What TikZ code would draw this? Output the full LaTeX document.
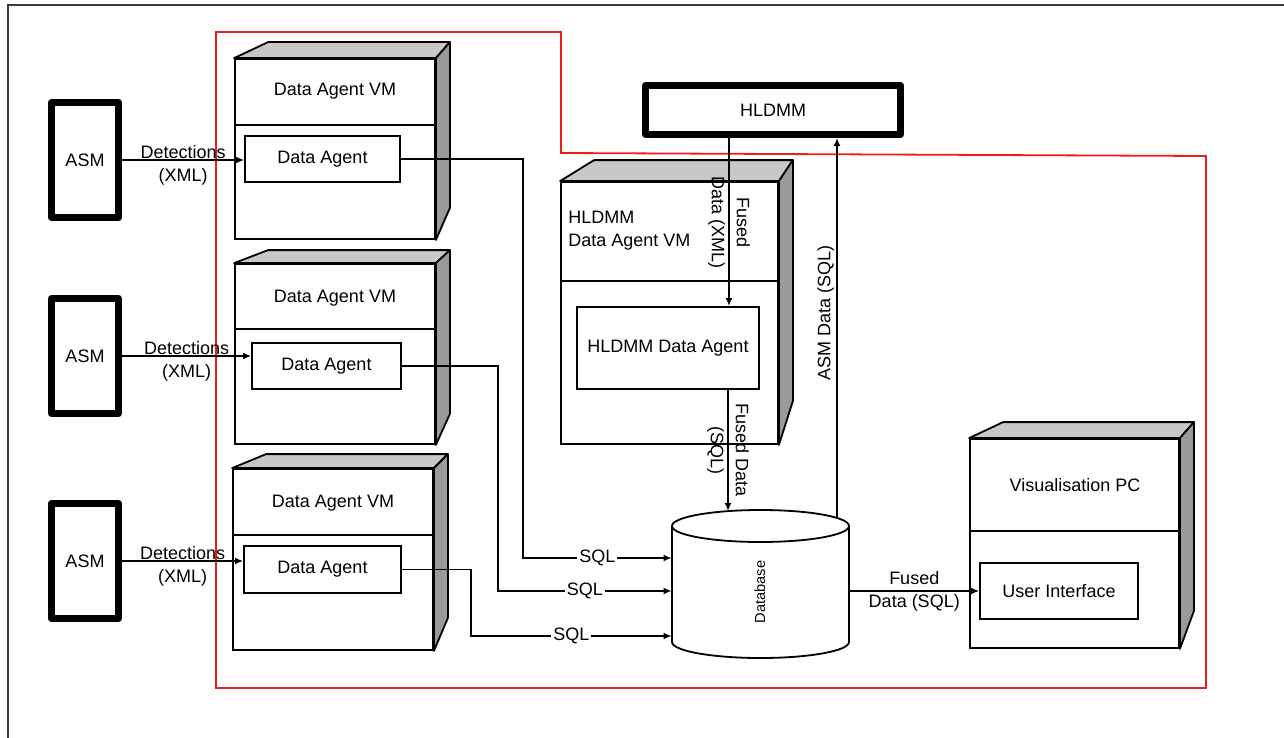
\documentclass[tikz,border=0pt]{standalone}
\usepackage{fontspec}
\setmainfont{Liberation Sans}
\usepackage{tikz}
\usetikzlibrary{arrows.meta,calc,fit,positioning}
\definecolor{frameGray}{HTML}{3C3C3C}
\definecolor{zoneRed}{HTML}{F21B1B}
\definecolor{topGray}{HTML}{C8C8C8}
\definecolor{sideGray}{HTML}{9A9A9A}

\tikzset{
  txt/.style={font=\fontsize{9}{11.5}\selectfont, align=center, inner sep=1pt},
  frontbox/.style={draw, line width=0.9pt, inner sep=0pt},
  asmbox/.style={draw, line width=3.5pt, line join=round, inner sep=0pt},
  boxtext/.style={label={[txt]center:#1}},
  flow/.style={-{Latex[length=4pt,width=3.5pt]}, line width=0.9pt},
  sqltag/.style={txt, fill=white},
}
% top and right faces of a 3D node box
\newcommand{\nodefaces}[3]{%
  \filldraw[fill=topGray, line width=0.9pt, line join=round]
    (#1.north west) -- ++(34,-#2) -- ($(#1.north east)+(14,-#2)$)
    -- (#1.north east) -- cycle;
  \filldraw[fill=sideGray, line width=0.9pt, line join=round]
    (#1.north east) -- ++(14,-#2) -- ($(#1.south east)+(14,-#3)$)
    -- (#1.south east) -- cycle;
}

\begin{document}
\begin{tikzpicture}[x=0.5pt,y=-0.5pt,>=Latex]
  \useasboundingbox (0,0) rectangle (1284,738);
  \draw[frameGray, line width=0.8pt] (8,738) -- (8,5) -- (1284,5);
  \draw[zoneRed, line width=0.9pt] (216,32) -- (561,32) -- (561,153)
    -- (1206,156) -- (1206,688) -- (216,688) -- cycle;

  % sources
  \node[asmbox, fit={(51.5,102.5)(118.5,217.5)}, boxtext=ASM] (asm1) {};
  \node[asmbox, fit={(51.5,298.5)(118.5,413.5)}, boxtext=ASM] (asm2) {};
  \node[asmbox, fit={(51.5,503.5)(118.5,618.5)}, boxtext=ASM] (asm3) {};

  % data agent VMs
  \node[frontbox, fit={(235,59)(435,239)}] (vm1) {};
  \nodefaces{vm1}{16}{32}
  \draw[line width=0.9pt] (235,125) -- (435,125);
  \node[txt] (vm1t) at (335,91) {Data Agent VM};
  \node[frontbox, fit={(245,136)(400,182)}, boxtext=Data Agent] (agent1) {};

  \node[frontbox, fit={(235,264)(435,444)}] (vm2) {};
  \nodefaces{vm2}{13}{31}
  \draw[line width=0.9pt] (235,329) -- (435,329);
  \node[txt] (vm2t) at (335,298) {Data Agent VM};
  \node[frontbox, fit={(252,343)(401,389)}, boxtext=Data Agent] (agent2) {};

  \node[frontbox, fit={(233,469)(433,650)}] (vm3) {};
  \nodefaces{vm3}{14}{33}
  \draw[line width=0.9pt] (233,535) -- (433,535);
  \node[txt] (vm3t) at (333,503) {Data Agent VM};
  \node[frontbox, fit={(244,546)(401,593)}, boxtext=Data Agent] (agent3) {};

  % HLDMM side
  \node[asmbox, fit={(645.5,85.5)(900.5,134.5)}, boxtext=HLDMM] (hldmm) {};
  \node[frontbox, fit={(561,182)(778,444)}] (hvm) {};
  \nodefaces{hvm}{21}{44}
  \draw[line width=0.9pt] (561,281) -- (778,281);
  \node[txt, anchor=west, align=left] (hvmt) at (566,231) {HLDMM\\Data Agent VM};
  \node[frontbox, fit={(577,307)(759,389)}, boxtext=HLDMM Data Agent] (hagent) {};

  % visualisation
  \node[frontbox, fit={(970,439)(1179,648)}] (pc) {};
  \nodefaces{pc}{16}{38}
  \draw[line width=0.9pt] (970,531) -- (1179,531);
  \node[txt] (pct) at (1075,485) {Visualisation PC};
  \node[frontbox, fit={(980,563)(1138,619)}, boxtext=User Interface] (ui) {};

  % database
  \node[inner sep=0pt, fit={(672,510)(849,658)}] (db) {};
  \draw[line width=0.9pt, fill=white] (672,526) -- (672,642)
    arc[start angle=180, end angle=0, x radius=88.5, y radius=16]
    -- (849,526)
    arc[start angle=0, end angle=-180, x radius=88.5, y radius=16] -- cycle;
  \draw[line width=0.9pt] (672,526)
    arc[start angle=180, end angle=0, x radius=88.5, y radius=16];
  \node[font=\fontsize{7.3}{8}\selectfont, rotate=90] (dbt) at (760,592) {Database};

  % detections
  \draw[flow] (asm1.east) -- (asm1.east -| agent1.west)
    node[midway, txt, yshift=-2.5pt] {Detections\\(XML)};
  \draw[flow] (asm2.east) -- (asm2.east -| agent2.west)
    node[midway, txt, yshift=-2.5pt] {Detections\\(XML)};
  \draw[flow] (asm3.east) -- (asm3.east -| agent3.west)
    node[midway, txt, yshift=-2.5pt] {Detections\\(XML)};

  % SQL into the database
  \coordinate (j1) at (523,558);
  \coordinate (j2) at (498,591);
  \coordinate (j3) at (471,636);
  \draw[flow] (agent1.east) -| (j1) -- (j1 -| db.west) node[midway, sqltag] {SQL};
  \draw[flow] (agent2.east) -| (j2) -- (j2 -| db.west) node[midway, sqltag] {SQL};
  \draw[flow] (agent3.east) -| (j3) -- (j3 -| db.west) node[midway, sqltag] {SQL};

  % fused data
  \coordinate (fx) at (729,0);
  \coordinate (dbin) at (728,511);
  \coordinate (dbout) at (837,518);
  \draw[flow] (hldmm.south -| fx) -- (hagent.north -| fx)
    node[midway, txt, rotate=-90, font=\fontsize{9}{12.5}\selectfont] {Fused\\Data (XML)};
  \draw[flow] (hagent.south -| dbin) -- (dbin)
    node[midway, txt, rotate=-90, font=\fontsize{9}{12.5}\selectfont] {Fused Data\\(SQL)};
  \draw[flow] (dbout) -- (hldmm.south -| dbout)
    node[pos=0.54, txt, rotate=90, anchor=south] {ASM Data (SQL)};
  \draw[flow] (ui.west -| db.east) -- (ui.west)
    node[midway, txt] {Fused\\Data (SQL)};
\end{tikzpicture}
\end{document}
